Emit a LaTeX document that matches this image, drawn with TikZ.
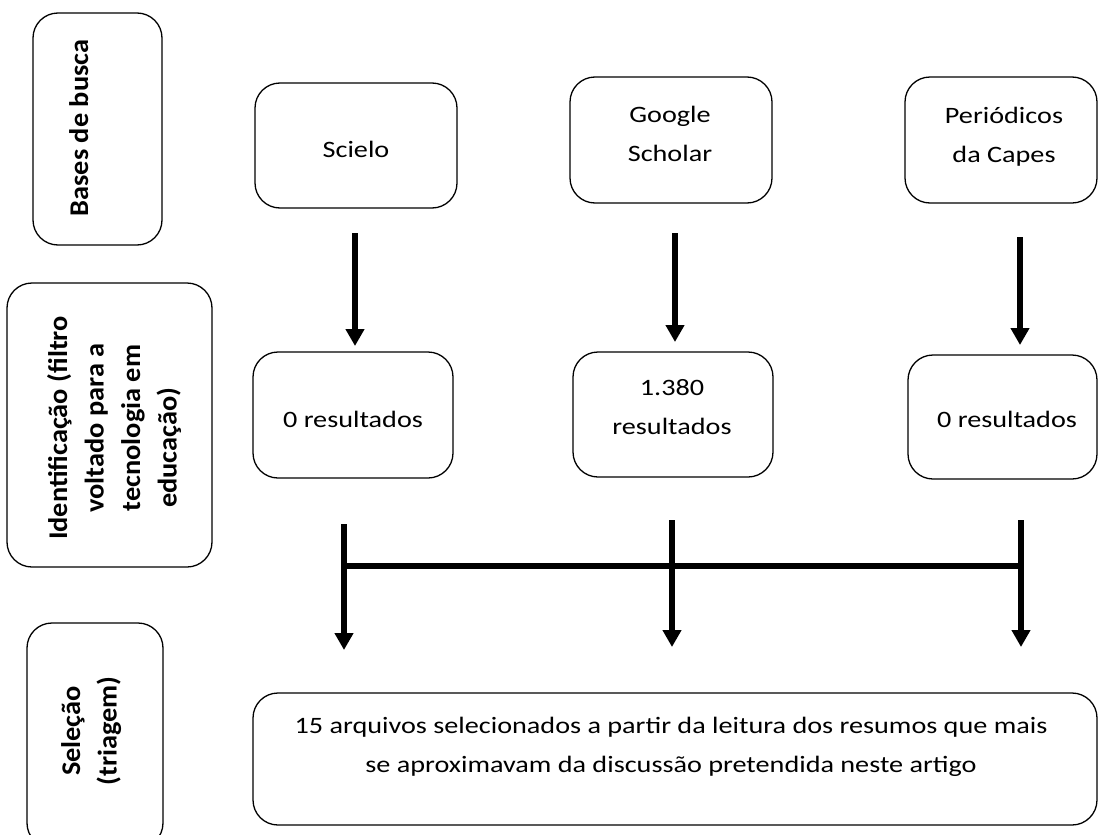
\documentclass[tikz,border=0pt]{standalone}
\usepackage{fontspec}
\setmainfont{Carlito}[FakeStretch=1.2]
\newfontfamily\lblfont{Carlito}[FakeStretch=1.05]
\usetikzlibrary{arrows.meta}
\begin{document}
\begin{tikzpicture}[x=1pt,y=-1pt,
  box/.style={draw, line width=1.3pt, rounded corners=25pt, inner sep=0pt},
  txt/.style={anchor=base, inner sep=0pt, font=\fontsize{23.5}{39}\selectfont},
  lbl/.style={anchor=base, inner sep=0pt, rotate=90, font=\lblfont\bfseries\fontsize{27}{36.5}\selectfont},
  arr/.style={line width=6.5pt, -{Triangle[width=18pt,length=17pt]}},
  bar/.style={line width=6.5pt}]
\path[use as bounding box, fill=white] (0,0) rectangle (1100,835);

% left stage boxes
\node[box, minimum width=129pt, minimum height=232pt] (b1) at (97.5,129) {};
\node[box, minimum width=205pt, minimum height=284pt] (b2) at (109.5,425) {};
\node[box, minimum width=136pt, minimum height=225pt] (b3) at (95,735.5) {};
\node[lbl] (l1) at (88,128) {\begin{tabular}[t]{@{}c@{}}Bases de busca\end{tabular}};
\node[lbl] (l2) at (67,428) {\begin{tabular}[t]{@{}c@{}}Identificação (filtro\\voltado para a\\tecnologia em\\educação)\hspace*{40pt}\end{tabular}};
\node[lbl] (l3) at (80,731) {\begin{tabular}[t]{@{}c@{}}Seleção\\(triagem)\end{tabular}};

% top boxes
\node[box, minimum width=202pt, minimum height=125pt] (scielo) at (356,145.5) {};
\node[box, minimum width=202pt, minimum height=126pt] (google) at (671,140) {};
\node[box, minimum width=192pt, minimum height=126pt] (capes) at (1001,140) {};
\node[txt] (tscielo) at (356,157) {Scielo};
\node[txt] (tgoogle) at (670,122) {\begin{tabular}[t]{@{}c@{}}Google\\Scholar\end{tabular}};
\node[txt] (tcapes) at (1004,123) {\begin{tabular}[t]{@{}c@{}}Periódicos\\da Capes\end{tabular}};

% result boxes
\node[box, minimum width=200pt, minimum height=126pt] (r1) at (353,415) {};
\node[box, minimum width=200pt, minimum height=125pt] (r2) at (673,414.5) {};
\node[box, minimum width=189pt, minimum height=124pt] (r3) at (1002.5,417) {};
\node[txt] (tr1) at (353,427) {0 resultados};
\node[txt] (tr2) at (672,395) {\begin{tabular}[t]{@{}c@{}}1.380\\resultados\end{tabular}};
\node[txt] (tr3) at (1007,427) {0 resultados};

% final box
\node[box, minimum width=844pt, minimum height=132pt] (final) at (675,759) {};
\node[txt] (tfinal) at (671,733) {\begin{tabular}[t]{@{}c@{}}15 arquivos selecionados a partir da leitura dos resumos que mais\\se aproximavam da discussão pretendida neste artigo\end{tabular}};

% arrow end points
\coordinate (a1s) at (355,233);  \coordinate (a1e) at (355,346);
\coordinate (a2s) at (675,233);  \coordinate (a2e) at (675,342);
\coordinate (a3s) at (1020,237); \coordinate (a3e) at (1020,345);
\coordinate (c1s) at (344,524);  \coordinate (c1e) at (344,650);
\coordinate (c2s) at (672,520);  \coordinate (c2e) at (672,647);
\coordinate (c3s) at (1021,520); \coordinate (c3e) at (1021,647);
\coordinate (hl) at (344,566);   \coordinate (hr) at (1021,566);

\draw[arr] (a1s) -- (a1e);
\draw[arr] (a2s) -- (a2e);
\draw[arr] (a3s) -- (a3e);
\draw[bar] (hl) -- (hr);
\draw[arr] (c1s) -- (c1e);
\draw[arr] (c2s) -- (c2e);
\draw[arr] (c3s) -- (c3e);
\end{tikzpicture}
\end{document}
